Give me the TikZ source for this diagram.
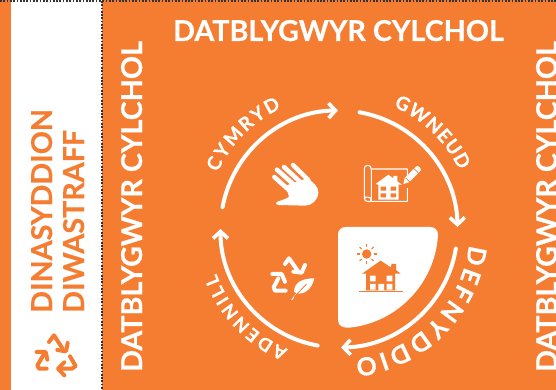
\documentclass[tikz,border=0pt]{standalone}
\usepackage{fontspec}
\setmainfont{Lato}[BoldFeatures={FakeBold=0.5}]
\usetikzlibrary{decorations.text,arrows.meta}
\definecolor{org}{HTML}{F47D32}
\tikzset{
 bigtxt/.style={font=\fontsize{28.7}{28.7}\selectfont\bfseries,inner sep=0pt},
 cyc/.style={draw=white,line width=4pt,line cap=round,-{Straight Barb[length=7pt,width=15pt,line width=3.6pt]}},
 rec/.style={line width=#1,line cap=round,line join=round},
 dots/.style={draw=black!80,line width=1.9pt,dash pattern=on 1.7pt off 1.6pt},
 pix/.style={x=.3333pt,y=-.3333pt},
}
\newcommand{\curv}[5]{\path[decorate,decoration={text along path,text align=fit to path,text={|\fontsize{#5}{#5}\selectfont\bfseries\color{white}|#1}}] (c) ++(#2:#4pt) arc[start angle=#2,end angle=#3,radius=#4pt];}
\begin{document}
\begin{tikzpicture}[x=1pt,y=1pt]
\useasboundingbox (0,0) rectangle (556,390);
\clip (0,0) rectangle (556,390);
\fill[org] (0,0) rectangle (556,390);
\fill[white] (11,0) rectangle (102,390);
\draw[dots] (0,389) -- (556,389);
\draw[dots] (102,389) -- (102,0);
\coordinate (c) at (339,161);
% headings
\node[bigtxt,text=white,anchor=base west] (ttl) at (173,349) {DATBLYGWYR CYLCHOL};
\node[bigtxt,text=white,anchor=base west,rotate=90] (lft) at (142,18) {DATBLYGWYR CYLCHOL};
\node[bigtxt,text=white,anchor=base west,rotate=90] (rgt) at (557,18) {DATBLYGWYR CYLCHOL};
\node[bigtxt,text=org,anchor=base west,rotate=90] (dina) at (52,77) {DINASYDDION};
\node[bigtxt,text=org,anchor=base west,rotate=90] (diwa) at (84,77) {DIWASTRAFF};
% cycle arrows
\draw[cyc] (c) ++(169.4:118.5pt) arc[start angle=169.4,end angle=90.5,radius=118.5pt];
\draw[cyc] (c) ++(80:118.5pt) arc[start angle=80,end angle=1,radius=118.5pt];
\draw[cyc] (c) ++(-9.5:118.5pt) arc[start angle=-9.5,end angle=-89,radius=118.5pt];
\draw[cyc] (c) ++(-100.4:118.5pt) arc[start angle=-100.4,end angle=-180,radius=118.5pt];
% curved labels
\curv{CYMRYD}{155}{115.5}{134}{19}
\curv{GWNEUD}{66}{26}{134}{19}
\curv{DEFNYDDIO}{-7}{-83}{131}{25}
\curv{ADENNILL}{-113}{-160}{130.5}{18}
% tile
\fill[white] (346,163) -- (430,163) .. controls (435,163) and (438,160) .. (438,155)
  arc[start angle=-3.5,end angle=-84,radius=99.3pt] .. controls (343,62) and (338,64) .. (338,70) -- (338,155) .. controls (338,160) and (341,163) .. (346,163) -- cycle;
% orange house and sun
\begin{scope}[shift={(350,152)},pix]
\fill[org] (50,48) circle[radius=4.7pt];
\foreach \a in {0,45,...,315} \draw[org,line width=1.1pt] (50,48) ++(\a:21) -- ++(\a:9);
\fill[org] (36,107) -- (92,68) -- (122,88) -- (125,78) -- (138,78) -- (138,96) -- (152,107) -- (135,107) -- (135,157) -- (48,157) -- (48,107) -- cycle;
\draw[org,line width=1.6pt] (27,160) -- (160,160);
\fill[white] (60,113) rectangle (77,130) (110,113) rectangle (127,130) (60,138) rectangle (77,155) (85,138) rectangle (102,158) (110,138) rectangle (127,155);
\end{scope}
% hand
\begin{scope}[shift={(265,235)},pix]
\foreach \xa/\ya/\xb/\yb in {28/66/75/108,36/44/90/92,57/36/110/85,84/30/130/75}
  \draw[white,line width=4.5pt,line cap=round] (\xa,\ya) -- (\xb,\yb);
\fill[white] (35,141) .. controls (50,135) and (65,132) .. (72,125) -- (62,92) -- (125,70) .. controls (145,80) and (160,95) .. (160,112) .. controls (160,135) and (140,152) .. (120,152) -- (40,150) .. controls (33,150) and (31,144) .. (35,141) -- cycle;
\end{scope}
% plan
\begin{scope}[shift={(360,232)},pix]
\draw[white,line width=1.1pt,line join=round] (34,33) -- (142,33) -- (142,130) -- (34,130) (34,130) -- (34,33) .. controls (34,26) and (30,22) .. (23,22) .. controls (16,22) and (13,26) .. (13,33) -- (13,122);
\draw[white,line width=1.1pt] (13,122) .. controls (13,132) and (34,134) .. (34,126) .. controls (34,116) and (13,114) .. (13,122);
\fill[org] (122,72) rectangle (146,90);
\fill[white] (47,78) -- (85,50) -- (100,61) -- (100,54) -- (112,54) -- (112,70) -- (126,80) -- (116,80) -- (116,125) -- (55,125) -- (55,80) -- cycle;
\fill[org] (62,86) rectangle (78,98) (92,86) rectangle (108,98) (62,106) rectangle (78,118) (92,106) rectangle (108,118);
\fill[white] (130,78) -- (134,60) -- (169,25) .. controls (174,21) and (186,32) .. (182,38) -- (147,73) -- cycle;
\draw[org,line width=.7pt] (137,60) -- (150,72) (162,32) -- (175,45);
\end{scope}
% recycle + leaf
\begin{scope}[shift={(265,140)},pix]
\draw[white,rec=4pt] (60,42) -- (72,25) -- (98,62);
\draw[white,rec=4pt] (85,65) -- (110,68) -- (120,45);
\draw[white,rec=4pt] (62,122) -- (30,122) -- (26,112) -- (40,85);
\draw[white,rec=4pt] (22,72) -- (50,72) -- (60,95);
\fill[white] (148,85) .. controls (115,85) and (88,95) .. (87,125) .. controls (105,140) and (140,125) .. (148,85) -- cycle;
\draw[white,line width=.9pt] (95,130) -- (80,150);
\draw[org,line width=.8pt] (88,140) -- (125,102);
\end{scope}
% orange recycle
\begin{scope}[shift={(30,62)},pix]
\draw[org,rec=4pt] (57,42) -- (72,22) -- (98,62);
\draw[org,rec=4pt] (82,66) -- (108,70) -- (113,45);
\draw[org,rec=4pt] (120,85) -- (137,114) -- (126,122) -- (85,122);
\draw[org,rec=4pt] (103,103) -- (84,122) -- (103,142);
\draw[org,rec=4pt] (50,122) -- (27,122) -- (22,112) -- (40,82);
\draw[org,rec=4pt] (20,72) -- (47,72) -- (52,95);
\end{scope}
\end{tikzpicture}
\end{document}
